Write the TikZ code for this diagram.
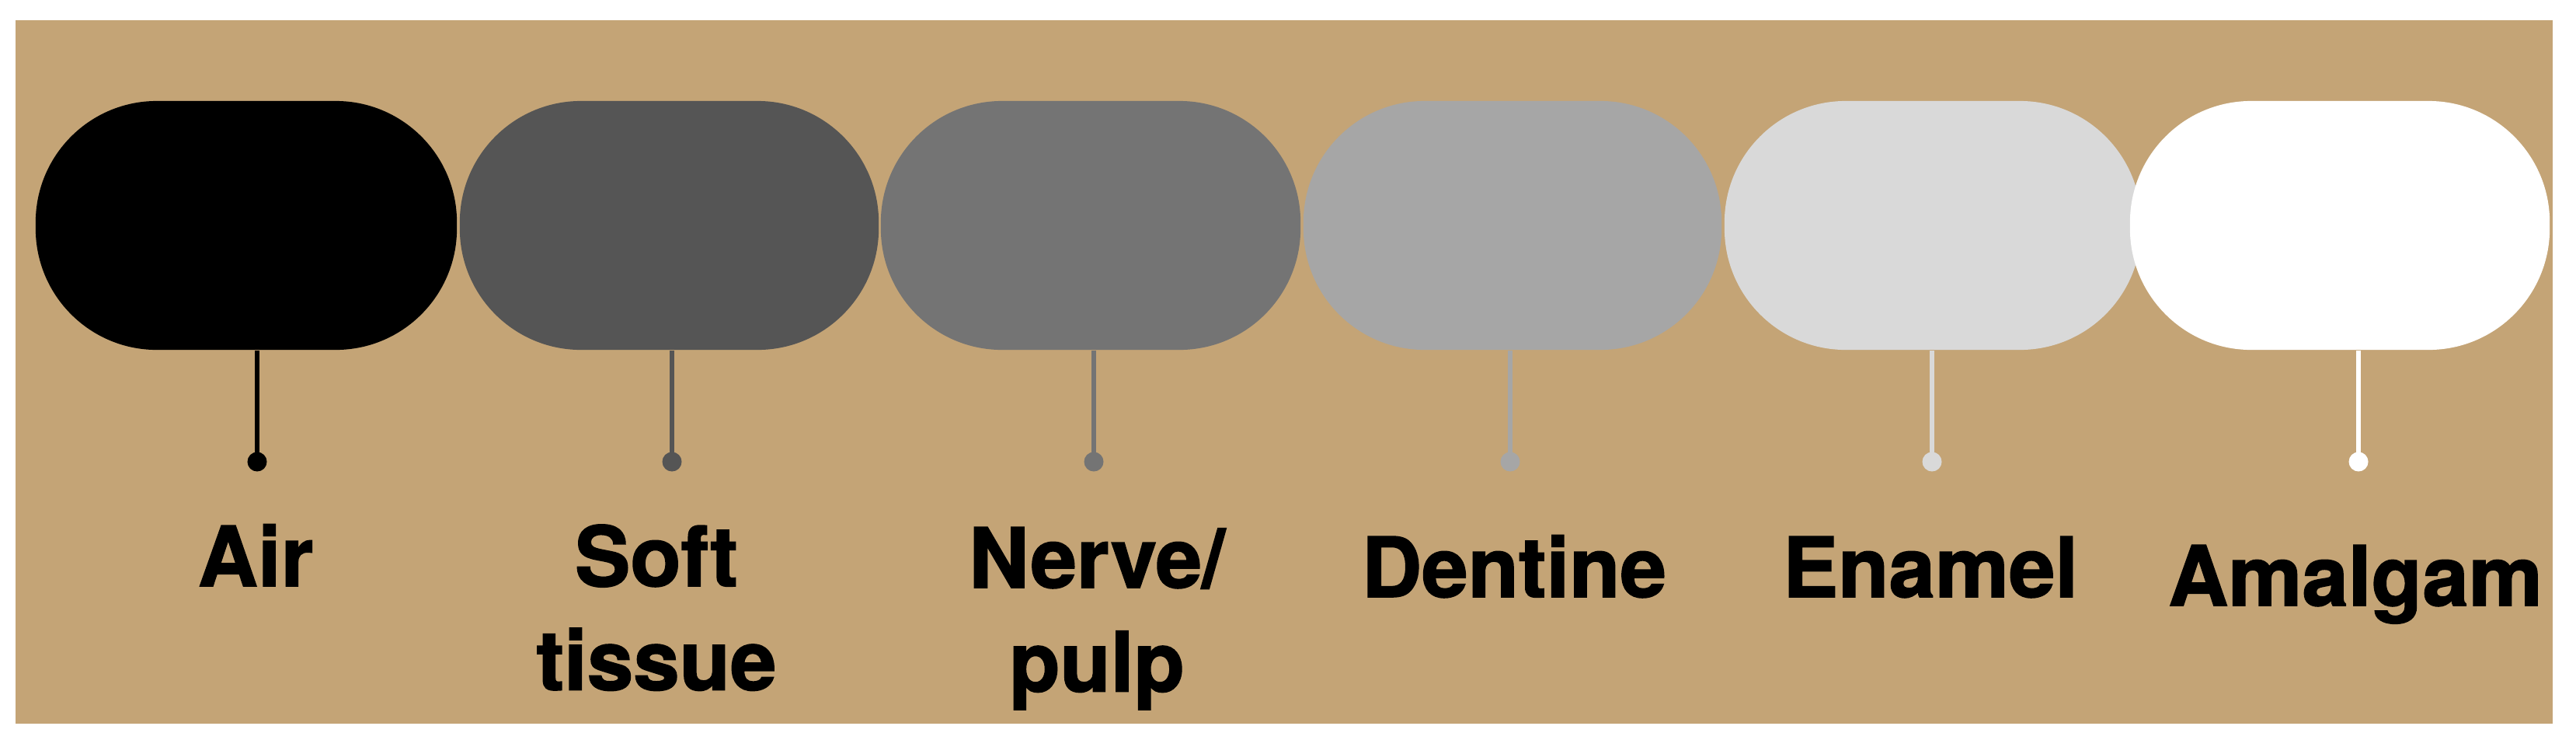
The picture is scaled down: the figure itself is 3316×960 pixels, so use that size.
\documentclass[tikz,border=0pt]{standalone}
\usepackage{fontspec}
\setmainfont{TeX Gyre Heros}[BoldFeatures={FakeBold=1.5}]
\definecolor{bg}{HTML}{C4A476}
\definecolor{cAir}{HTML}{000000}
\definecolor{cSoft}{HTML}{555555}
\definecolor{cNerve}{HTML}{747474}
\definecolor{cDent}{HTML}{A6A6A6}
\definecolor{cEnam}{HTML}{D9D9D9}
\definecolor{cAmal}{HTML}{FFFFFF}
\newcommand{\twolines}[2]{\begin{tabular}[t]{@{}c@{}}#1\\#2\end{tabular}}
\begin{document}
\begin{tikzpicture}[x=0.01cm,y=-0.01cm,
  capsule/.style={draw=none, rectangle, rounded corners=1.56cm, minimum height=3.2cm, inner sep=0pt},
  stem/.style={line width=0.06cm},
  dotc/.style={circle, inner sep=0pt, minimum size=0.25cm},
  lbl/.style={anchor=base, font=\fontsize{30.4pt}{38pt}\selectfont\bfseries, text=black, inner sep=0pt}]
\useasboundingbox (0,0) rectangle (3316,960);
\fill[bg] (20,26) rectangle (3286,931);
% capsules
\node[capsule, fill=cAir,   minimum width=5.42cm] (air)  at (317,290) {};
\node[capsule, fill=cSoft,  minimum width=5.39cm] (soft) at (861.5,290) {};
\node[capsule, fill=cNerve, minimum width=5.40cm] (nerve) at (1404,290) {};
\node[capsule, fill=cDent,  minimum width=5.38cm] (dent) at (1947,290) {};
\node[capsule, fill=cEnam,  minimum width=5.36cm] (enam) at (2488,290) {};
\node[capsule, fill=cAmal,  minimum width=5.40cm] (amal) at (3012,290) {};
% dots
\node[dotc, fill=cAir]   (dAir)   at (331,594) {};
\node[dotc, fill=cSoft]  (dSoft)  at (865,594) {};
\node[dotc, fill=cNerve] (dNerve) at (1408,594) {};
\node[dotc, fill=cDent]  (dDent)  at (1944,594) {};
\node[dotc, fill=cEnam]  (dEnam)  at (2487,594) {};
\node[dotc, fill=cAmal]  (dAmal)  at (3036,594) {};
% stems
\draw[stem, cAir]   (air.south -| dAir)     -- (dAir.center);
\draw[stem, cSoft]  (soft.south -| dSoft)   -- (dSoft.center);
\draw[stem, cNerve] (nerve.south -| dNerve) -- (dNerve.center);
\draw[stem, cDent]  (dent.south -| dDent)   -- (dDent.center);
\draw[stem, cEnam]  (enam.south -| dEnam)   -- (dEnam.center);
\draw[stem, cAmal]  (amal.south -| dAmal)   -- (dAmal.center);
% labels
\node[lbl] (tAir)   at (329,754)  {Air};
\node[lbl] (tSoft)  at (845,754)  {\twolines{Soft}{tissue}};
\node[lbl] (tNerve) at (1412,756) {\twolines{Nerve/}{pulp}};
\node[lbl] (tDent)  at (1949,768) {Dentine};
\node[lbl] (tEnam)  at (2485,768) {Enamel};
\node[lbl] (tAmal)  at (3032,779) {Amalgam};
\end{tikzpicture}
\end{document}
